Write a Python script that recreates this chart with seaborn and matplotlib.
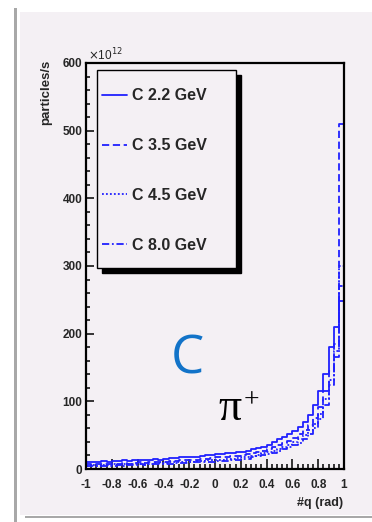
import numpy as np
import pandas as pd
import seaborn as sns
import matplotlib
matplotlib.use("Agg")
import matplotlib.pyplot as plt
from matplotlib.patches import Rectangle
from matplotlib.lines import Line2D
from matplotlib.ticker import MultipleLocator, FixedLocator, FixedFormatter

# Angular distribution of pi+ produced on carbon, 50 bins in theta over [-1, 1]
bin_edges = np.linspace(-1.0, 1.0, 51).round(2).tolist()

rate_2p2 = [11, 10, 11, 12, 11, 12, 12, 13, 12, 13, 14, 13, 14, 15, 14, 15, 16, 16, 17, 17,
            18, 18, 19, 20, 21,
            21.5, 22, 23, 23.5, 24.5, 25.5, 27, 29, 31, 33, 36, 40, 45, 48, 52, 56, 62, 70,
            80, 95, 115, 140, 180, 210, 248]
rate_3p5 = [7, 6, 7, 8, 7, 8, 8, 9, 8, 9, 10, 9, 10, 11, 10, 11, 12, 12, 13, 13,
            14, 14, 15, 15, 16,
            17, 17, 18, 18.5, 19.5, 20.5, 22, 23.5, 25, 27, 29, 32, 35, 38, 42, 46, 51, 57,
            65, 76, 92, 115, 145, 185, 510]
rate_4p5 = [5, 6, 5, 6, 6, 7, 6, 7, 7, 8, 7, 8, 8, 9, 9, 9, 10, 10, 10, 11,
            11, 12, 12, 13, 13,
            13.5, 14, 14.5, 15, 16, 17, 18, 19.5, 21, 23, 25, 27, 30, 33, 36, 40, 44, 50,
            57, 67, 82, 103, 132, 175, 300]
rate_8p0 = [4, 5, 4, 5, 5, 5, 6, 5, 6, 6, 7, 6, 7, 7, 8, 8, 8, 9, 9, 9,
            10, 10, 10, 11, 11,
            12, 12, 12.5, 13, 14, 14.5, 15.5, 17, 18.5, 20, 22, 24, 26.5, 29, 32, 35, 39, 44,
            51, 60, 74, 95, 124, 165, 270]

series_labels = ["C 2.2 GeV", "C 3.5 GeV", "C 4.5 GeV", "C 8.0 GeV"]
series_rates = [rate_2p2, rate_3p5, rate_4p5, rate_8p0]

x_ticks = [-1, -0.8, -0.6, -0.4, -0.2, 0, 0.2, 0.4, 0.6, 0.8, 1]
x_tick_labels = ["-1", "-0.8", "-0.6", "-0.4", "-0.2", "0", "0.2", "0.4", "0.6", "0.8", "1"]
y_ticks = [0, 100, 200, 300, 400, 500, 600]

edges = np.array(bin_edges)
centers = 0.5 * (edges[:-1] + edges[1:])
frames = []
for label, rates in zip(series_labels, series_rates):
    frames.append(pd.DataFrame({"theta": centers, "rate": rates, "beam": label}))
df = pd.concat(frames, ignore_index=True)

sns.set_theme(style="white")
plt.rcParams["font.family"] = ["Liberation Sans", "DejaVu Sans"]

W, H = 372, 522
fig = plt.figure(figsize=(W / 100, H / 100), dpi=100)
fig.patch.set_facecolor("white")

panel = "#f4f0f4"
# Slide-style panel behind the plot
fig.patches.append(Rectangle((14 / W, 0), 2.5 / W, 1 - 8 / H, transform=fig.transFigure,
                             facecolor="#a8a8a8", edgecolor="none", zorder=-5))
fig.patches.append(Rectangle((20 / W, 1 - 515 / H), 1, (515 - 12) / H, transform=fig.transFigure,
                             facecolor=panel, edgecolor="none", zorder=-5))
fig.patches.append(Rectangle((25 / W, 1 - 518 / H), 1, 2.5 / H, transform=fig.transFigure,
                             facecolor="#a8a8a8", edgecolor="none", zorder=-5))

AX_L, AX_R, AX_T, AX_B = 86, 344, 63, 469
ax = fig.add_axes([AX_L / W, 1 - AX_B / H, (AX_R - AX_L) / W, (AX_B - AX_T) / H])
ax.set_zorder(2)
ax.set_facecolor(panel)


def to_axes(px, py):
    return (px - AX_L) / (AX_R - AX_L), (AX_B - py) / (AX_B - AX_T)


blue = "#2020ff"
styles = ["-", (0, (4, 2)), (0, (1, 1.2)), (0, (4, 1.5, 1, 1.5))]
for label, ls in zip(series_labels, styles):
    sub = df[df["beam"] == label]
    sns.histplot(data=sub, x="theta", weights="rate", bins=bin_edges, element="step",
                 fill=False, color=blue, linewidth=1.3, linestyle=ls, ax=ax)

ax.set_xlim(-1, 1)
ax.set_ylim(0, 600)
ax.set_xlabel("")
ax.set_ylabel("")

for s in ax.spines.values():
    s.set_visible(True)
    s.set_color("black")
    s.set_linewidth(1.6)

ax.xaxis.set_major_locator(FixedLocator(x_ticks))
ax.xaxis.set_major_formatter(FixedFormatter(x_tick_labels))
ax.xaxis.set_minor_locator(MultipleLocator(0.04))
ax.yaxis.set_major_locator(FixedLocator(y_ticks))
ax.yaxis.set_minor_locator(MultipleLocator(20))
ax.tick_params(axis="both", which="both", direction="in", color="black", width=1.1,
               bottom=True, left=True, top=False, right=False)
ax.tick_params(axis="x", which="major", length=7.5, pad=7, labelsize=8.5)
ax.tick_params(axis="x", which="minor", length=3.5)
ax.tick_params(axis="y", which="major", length=6, pad=2.5, labelsize=8.5)
ax.tick_params(axis="y", which="minor", length=3)
for t in ax.get_xticklabels() + ax.get_yticklabels():
    t.set_fontweight("bold")

# Legend box with a solid drop shadow
bx0, by0 = to_axes(97, 268)
bx1, by1 = to_axes(236, 70)
sx, sy = 5 / (AX_R - AX_L), 5 / (AX_B - AX_T)
ax.add_patch(Rectangle((bx0 + sx, by0 - sy), bx1 - bx0, by1 - by0, transform=ax.transAxes,
                       facecolor="black", edgecolor="black", zorder=4))
ax.add_patch(Rectangle((bx0, by0), bx1 - bx0, by1 - by0, transform=ax.transAxes,
                       facecolor=panel, edgecolor="black", linewidth=1.0, zorder=4.5))

handles = [Line2D([], [], color=blue, linewidth=1.3, linestyle=ls) for ls in styles]
leg = ax.legend(handles, series_labels, loc="center left",
                bbox_to_anchor=to_axes(102, 170.5),
                borderaxespad=0, borderpad=0, frameon=False,
                prop={"weight": "bold", "size": 11.5},
                handlelength=1.55, handletextpad=0.3, labelspacing=2.18)
leg.set_zorder(6)

fig.text(88 / W, 1 - 60 / H, r"$\times$10$^{12}$", fontsize=8.5, ha="left", va="baseline")
fig.text(46 / W, 1 - 92 / H, "particles/s", rotation=90, fontsize=9.5, fontweight="bold",
         ha="center", va="center")
fig.text(343 / W, 1 - 503 / H, "#q (rad)", fontsize=9, fontweight="bold",
         ha="right", va="center")

fig.text(187 / W, 1 - 373 / H, "C", fontsize=38, color="#1273c8",
         family=["Open Sans", "DejaVu Sans"], ha="center", va="baseline", zorder=5)
fig.text(230 / W, 1 - 420 / H, "π", fontsize=33, color="black",
         family=["Liberation Serif", "DejaVu Serif"], ha="center", va="baseline", zorder=5)
fig.text(251 / W, 1 - 407 / H, "+", fontsize=20, color="black",
         family=["Liberation Serif", "DejaVu Serif"], ha="center", va="baseline", zorder=5)

fig.savefig("out.png", dpi=100, facecolor=fig.get_facecolor())
